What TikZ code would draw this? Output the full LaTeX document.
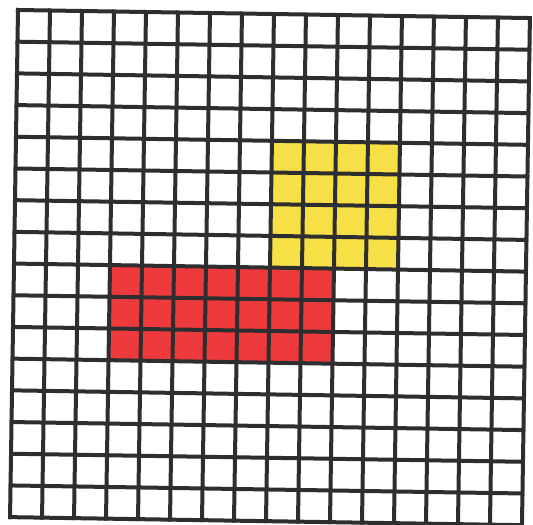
\documentclass[tikz,border=0pt]{standalone}
\definecolor{gridline}{HTML}{2E2E30}
\definecolor{cellyellow}{HTML}{F6E046}
\definecolor{cellred}{HTML}{EE3A3C}
\tikzset{gridrule/.style={draw=gridline,line width=3pt,line cap=rect}}
\begin{document}
\begin{tikzpicture}[x=0.75pt,y=-0.75pt]
\useasboundingbox[fill=white] (0,0) rectangle (533,525);
\begin{scope}[shift={(18,10)},rotate=-0.9]
  \def\cw{32}
  \def\ch{31.7}
  % yellow block: columns 8-11, rows 4-7
  \fill[cellyellow] (8*\cw,4*\ch) rectangle (12*\cw,8*\ch);
  % red block: columns 3-9, rows 8-10
  \fill[cellred] (3*\cw,8*\ch) rectangle (10*\cw,11*\ch);
  \foreach \i in {0,...,16}{
    \draw[gridrule] (\i*\cw,0) -- (\i*\cw,16*\ch);
    \draw[gridrule] (0,\i*\ch) -- (16*\cw,\i*\ch);
  }
\end{scope}
\end{tikzpicture}
\end{document}
